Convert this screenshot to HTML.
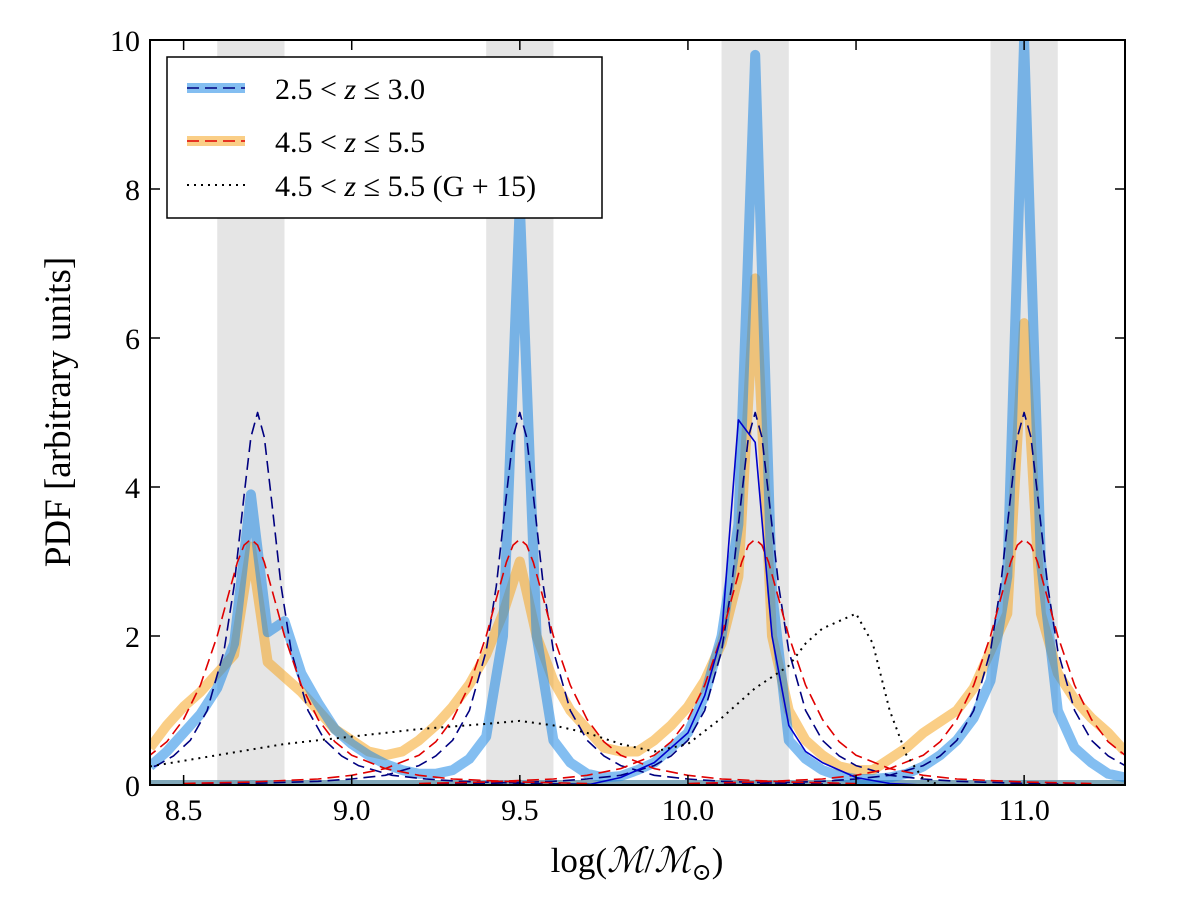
<!DOCTYPE html>
<html><head><meta charset="utf-8"><style>
html,body{margin:0;padding:0;background:#fff;width:1200px;height:906px;overflow:hidden}
text{font-family:"Liberation Serif","DejaVu Serif",serif}
</style></head><body>
<svg id="chart" width="1200" height="906" viewBox="0 0 1200 906" xmlns="http://www.w3.org/2000/svg">
<g id="bands"></g>
<g id="series"></g>
<rect x="150" y="40" width="975" height="745" fill="none" stroke="#000" stroke-width="2"/>
<g id="axes"></g>
<text transform="translate(70,412) rotate(-90)" text-anchor="middle" font-size="37">PDF [arbitrary units]</text>
<text x="637" y="872" text-anchor="middle" font-size="35">log(<tspan font-style="italic">ℳ</tspan>/<tspan font-style="italic">ℳ</tspan><tspan font-size="24" dy="8">⊙</tspan><tspan dy="-8">)</tspan></text>
<g>
<rect x="167" y="57" width="435" height="161" fill="#fff" stroke="#000" stroke-width="1.5"/>
<line x1="187" y1="88" x2="245" y2="88" stroke="rgb(30,136,229)" stroke-opacity="0.55" stroke-width="10"/>
<line x1="187" y1="88" x2="245" y2="88" stroke="#000080" stroke-width="1.6" stroke-dasharray="12,6"/>
<text x="275" y="99" font-size="30">2.5 &lt; <tspan font-style="italic">z</tspan> ≤ 3.0</text>
<line x1="187" y1="141" x2="245" y2="141" stroke="rgb(245,166,35)" stroke-opacity="0.55" stroke-width="10"/>
<line x1="187" y1="141" x2="245" y2="141" stroke="#e00000" stroke-width="1.6" stroke-dasharray="12,6"/>
<text x="275" y="152" font-size="30">4.5 &lt; <tspan font-style="italic">z</tspan> ≤ 5.5</text>
<line x1="187" y1="185" x2="245" y2="185" stroke="#000" stroke-width="2" stroke-dasharray="2,5"/>
<text x="275" y="196" font-size="30">4.5 &lt; <tspan font-style="italic">z</tspan> ≤ 5.5 (G + 15)</text>
</g>
</svg>
<script>
const gridX=[8.4,8.45,8.5,8.55,8.6,8.65,8.7,8.75,8.8,8.85,8.9,8.95,9.0,9.05,9.1,9.15,9.2,9.25,9.3,9.35,9.4,9.45,9.5,9.55,9.6,9.65,9.7,9.75,9.8,9.85,9.9,9.95,10.0,10.05,10.1,10.15,10.2,10.25,10.3,10.35,10.4,10.45,10.5,10.55,10.6,10.65,10.7,10.75,10.8,10.85,10.9,10.95,11.0,11.05,11.1,11.15,11.2,11.25,11.3];
const blueThick=[0.25,0.45,0.7,0.95,1.3,1.9,3.9,2.05,2.2,1.5,1.1,0.75,0.55,0.4,0.28,0.2,0.15,0.15,0.2,0.35,0.65,2.0,7.8,2.0,0.6,0.3,0.15,0.1,0.12,0.2,0.3,0.5,0.7,1.2,2.0,3.5,9.8,2.6,0.6,0.35,0.2,0.12,0.08,0.08,0.1,0.15,0.25,0.4,0.6,0.9,1.4,2.8,10,3.0,1.0,0.5,0.3,0.15,0.1];
const orangeThick=[0.5,0.8,1.05,1.25,1.5,1.75,3.2,1.65,1.45,1.25,1.0,0.75,0.6,0.45,0.4,0.45,0.6,0.8,1.05,1.35,1.75,2.3,3.0,2.0,1.4,1.0,0.75,0.5,0.45,0.45,0.6,0.8,1.05,1.4,1.9,2.8,6.8,2.0,1.0,0.6,0.4,0.25,0.2,0.2,0.35,0.5,0.7,0.85,1.0,1.3,1.8,2.3,6.2,2.3,1.5,1.15,0.9,0.7,0.45];
const dottedX=[8.4,8.6,8.8,9.0,9.2,9.4,9.5,9.6,9.7,9.8,9.9,10.0,10.1,10.2,10.3,10.35,10.4,10.45,10.5,10.55,10.6,10.65,10.7,10.75];
const dottedY=[0.25,0.4,0.55,0.65,0.75,0.82,0.86,0.8,0.7,0.55,0.45,0.55,0.9,1.3,1.6,1.9,2.1,2.2,2.3,1.9,1.0,0.4,0.08,0];
const thinX=[9.7,9.8,9.9,10.0,10.05,10.1,10.15,10.2,10.25,10.3,10.35,10.4,10.5,10.6,10.7];
const thinY=[0,0.1,0.3,0.7,1.2,2.0,4.9,4.6,2.0,0.8,0.45,0.3,0.1,0.02,0];
const peakOffsets=[-1.0,-0.8,-0.6,-0.5,-0.4,-0.3,-0.25,-0.2,-0.15,-0.1,-0.07,-0.04,-0.02,0,0.02,0.04,0.07,0.1,0.15,0.2,0.25,0.3,0.4,0.5,0.6,0.8,1.0];
const navyShape=[0.01,0.02,0.05,0.08,0.13,0.26,0.39,0.6,1.0,1.8,2.67,3.89,4.67,5,4.67,3.89,2.67,1.8,1.0,0.6,0.39,0.26,0.13,0.08,0.05,0.02,0.01];
const redShape=[0.02,0.04,0.08,0.13,0.22,0.4,0.58,0.88,1.34,2.0,2.5,2.99,3.22,3.3,3.22,2.99,2.5,2.0,1.34,0.88,0.58,0.4,0.22,0.13,0.08,0.04,0.02];
const navyCenters=[8.72,9.5,10.2,11.0];
const redCenters=[8.7,9.5,10.2,11.0];
const bandStarts=[8.6,9.4,10.1,10.9];
const bandEnds=[8.8,9.6,10.3,11.1];
const xTicks=[8.5,9.0,9.5,10.0,10.5,11.0];
const xTickLabels=["8.5","9.0","9.5","10.0","10.5","11.0"];
const yTicks=[0,2,4,6,8,10];
const yTickLabels=["0","2","4","6","8","10"];

const X0=8.4,X1=11.3,PL=150,PR=1125,PT=40,PB=785;
const sx=v=>PL+(v-X0)/(X1-X0)*(PR-PL);
const sy=v=>PB-v/10*(PB-PT);
const NS="http://www.w3.org/2000/svg";
function mk(tag,parent,attrs){const e=document.createElementNS(NS,tag);for(const k in attrs)e.setAttribute(k,attrs[k]);parent.appendChild(e);return e;}
const bands=document.getElementById('bands'),series=document.getElementById('series'),axes=document.getElementById('axes');
const clip=mk('clipPath',document.getElementById('chart'),{id:'pc'});
mk('rect',clip,{x:PL,y:PT,width:PR-PL,height:PB-PT});
series.setAttribute('clip-path','url(#pc)');
bandStarts.forEach((b,i)=>{const r=mk('rect',bands,{x:sx(b),y:PT,width:sx(bandEnds[i])-sx(b),height:PB-PT,fill:'#e5e5e5'});

});
function path(xs,ys,attrs,name){const d=xs.map((x,i)=>(i?'L':'M')+sx(x).toFixed(1)+','+sy(ys[i]).toFixed(1)).join('');
const p=mk('path',series,Object.assign({d:d,fill:'none','stroke-linejoin':'round'},attrs));

}
path([X0,X1],[0.02,0.02],{stroke:'rgb(245,166,35)','stroke-opacity':0.55,'stroke-width':7},'orange-baseline');
path([X0,X1],[0.02,0.02],{stroke:'rgb(30,136,229)','stroke-opacity':0.55,'stroke-width':7},'blue-baseline');
path(gridX,orangeThick,{stroke:'rgb(245,166,35)','stroke-opacity':0.55,'stroke-width':10},'orange-thick-series');
path(gridX,blueThick,{stroke:'rgb(30,136,229)','stroke-opacity':0.55,'stroke-width':10},'blue-thick-series');
navyCenters.forEach((c,i)=>path(peakOffsets.map(o=>c+o),navyShape,{stroke:'#000080','stroke-width':1.6,'stroke-dasharray':'12,6'},'navy-dashed-peak-'+i));
redCenters.forEach((c,i)=>path(peakOffsets.map(o=>c+o),redShape,{stroke:'#e00000','stroke-width':1.6,'stroke-dasharray':'12,6'},'red-dashed-peak-'+i));
path(thinX,thinY,{stroke:'#0000cc','stroke-width':1.6},'blue-thin-series');
path(dottedX,dottedY,{stroke:'#000','stroke-width':2,'stroke-dasharray':'2,5'},'g15-dotted-series');
xTicks.forEach((t,i)=>{const x=sx(t);
mk('line',axes,{x1:x,y1:PB,x2:x,y2:PB-10,stroke:'#000','stroke-width':1.5});
mk('line',axes,{x1:x,y1:PT,x2:x,y2:PT+10,stroke:'#000','stroke-width':1.5});
const l=mk('text',axes,{x:x,y:PB+35,'text-anchor':'middle','font-size':30});l.textContent=xTickLabels[i];

});
yTicks.forEach((t,i)=>{const y=sy(t);
mk('line',axes,{x1:PL,y1:y,x2:PL+10,y2:y,stroke:'#000','stroke-width':1.5});
mk('line',axes,{x1:PR,y1:y,x2:PR-10,y2:y,stroke:'#000','stroke-width':1.5});
const l=mk('text',axes,{x:PL-10,y:y+11,'text-anchor':'end','font-size':30});l.textContent=yTickLabels[i];

});
</script>
</body></html>
